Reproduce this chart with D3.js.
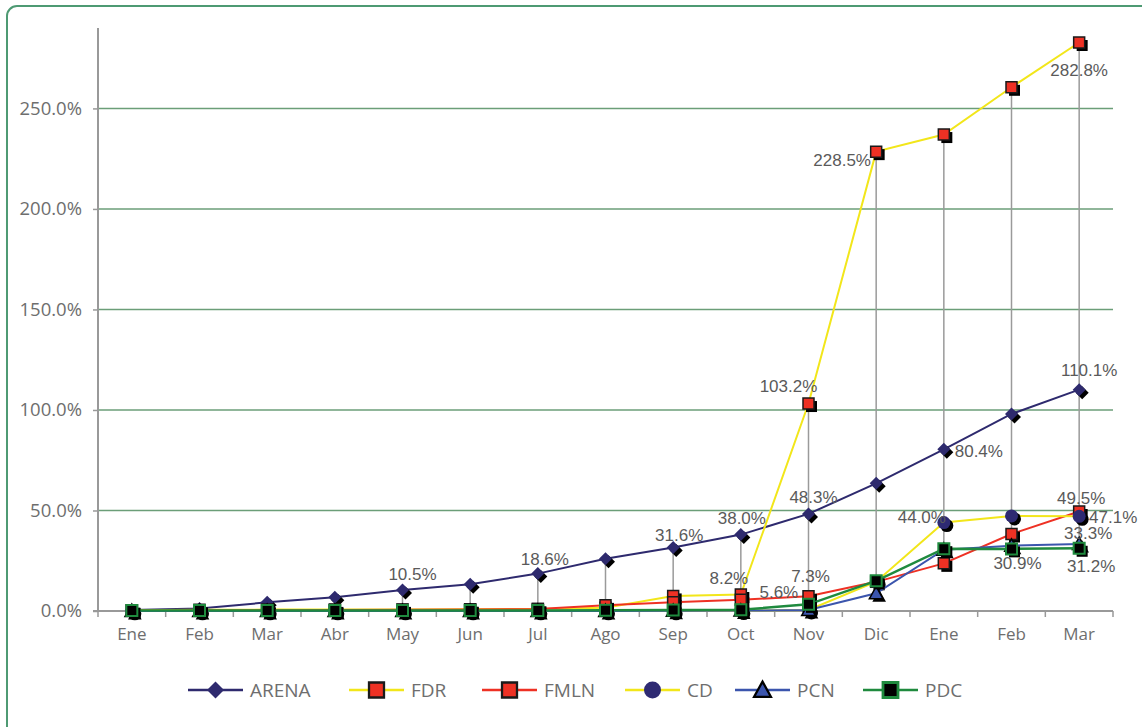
<!DOCTYPE html>
<html><head><meta charset="utf-8">
<script src="https://cdn.jsdelivr.net/npm/d3@7"></script>
<style>body{margin:0;background:#fff}svg{display:block}</style>
</head><body>
<svg id="c" width="1142" height="727"></svg>
<script>
// ---- data ----
const categories = ["Ene","Feb","Mar","Abr","May","Jun","Jul","Ago","Sep","Oct","Nov","Dic","Ene","Feb","Mar"];
const seriesNames = ["ARENA","FDR","FMLN","CD","PCN","PDC"];
const arena = [0.5, 1.2, 4.3, 6.8, 10.5, 13.3, 18.6, 26.0, 31.6, 38.0, 48.3, 63.5, 80.4, 98.0, 110.1];
const fdr   = [0.4, 0.6, 0.7, 0.8, 0.8, 0.9, 1.0, 1.6, 7.5, 8.2, 103.2, 228.5, 237.0, 260.5, 282.8];
const fmln  = [0.2, 0.3, 0.4, 0.5, 0.6, 0.7, 1.0, 2.8, 4.3, 5.6, 7.3, 14.5, 23.7, 38.3, 49.5];
const cd    = [0.1, 0.1, 0.1, 0.1, 0.1, 0.1, 0.1, 0.1, 0.1, 0.2, 0.5, 14.6, 44.0, 47.3, 47.1];
const pcn   = [0.0, 0.0, 0.0, 0.0, 0.0, 0.0, 0.0, 0.0, 0.1, 0.2, 0.5, 8.8, 30.5, 32.5, 33.3];
const pdc   = [0.3, 0.3, 0.3, 0.3, 0.3, 0.3, 0.3, 0.4, 0.5, 0.6, 3.3, 15.0, 31.0, 30.9, 31.2];
const yTicks = [0, 50, 100, 150, 200, 250];
// labelled points: [series, category index]
const labelledPoints = [
  ["ARENA",4],["ARENA",6],["ARENA",8],["ARENA",9],["ARENA",10],["ARENA",12],["ARENA",14],
  ["FDR",9],["FMLN",9],["FMLN",10],["FDR",10],["FDR",11],["FDR",14],
  ["CD",12],["FMLN",14],["CD",14],["PCN",14],["PDC",13],["PDC",14]
];
// ---- layout / style ----
const labelOffsets = [[10,-16],[7,-15],[6,-13],[1,-17],[5,-17],[35,2],[10,-20],
  [-12,-17],[38,-8],[2,-20],[-20,-18],[-34,8],[0,27],
  [-22,-6],[2,-14],[34,1],[9,-11],[6,14],[12,18]];
const values = {ARENA:arena, FDR:fdr, FMLN:fmln, CD:cd, PCN:pcn, PDC:pdc};
const style = {
  ARENA:{line:"#2e2a6e", lw:2, shape:"diamond", fill:"#2e2a6e", stroke:"none", sw:0},
  FDR:{line:"#f2e61a", lw:2, shape:"square", fill:"#ee3124", stroke:"#1a1a1a", sw:1.5},
  FMLN:{line:"#ee3124", lw:2, shape:"square", fill:"#ee3124", stroke:"#1a1a1a", sw:1.5},
  CD:{line:"#f2e61a", lw:2, shape:"circle", fill:"#2e2a72", stroke:"none", sw:0},
  PCN:{line:"#3b55ad", lw:2, shape:"triangle", fill:"#3b55ad", stroke:"#000", sw:1.5},
  PDC:{line:"#1f8a3e", lw:2.5, shape:"square", fill:"#000", stroke:"#1f8a3e", sw:2}
};
const legendX = [188, 349, 482, 625, 735, 863];

const svg = d3.select("#c");
svg.append("rect").attr("x",7).attr("y",6).attr("width",1160).attr("height",760)
  .attr("rx",10).attr("fill","#fff").attr("stroke","#4e9a73").attr("stroke-width",2);

const x = d3.scaleBand().domain(d3.range(categories.length)).range([98,1113]);
const y = d3.scaleLinear().domain([0,290]).range([611,28]);
const cx = i => x(i) + x.bandwidth()/2;

// gridlines
svg.append("g").selectAll("line").data(yTicks.filter(d=>d>0)).join("line")
  .attr("x1",x.range()[0]).attr("x2",x.range()[1])
  .attr("y1",d=>y(d)).attr("y2",d=>y(d))
  .attr("stroke","#6b9e78").attr("stroke-width",1.5);

// y axis
const ya = svg.append("g").attr("transform",`translate(${x.range()[0]},0)`)
  .call(d3.axisLeft(y).tickValues(yTicks).tickSize(5).tickPadding(11).tickFormat(d=>d.toFixed(1)+"%"));
ya.select(".domain").remove();
ya.selectAll(".tick line").attr("stroke","#999").attr("stroke-width",1.5);
ya.selectAll("text").attr("font-family","Open Sans").attr("font-size",18.5).attr("fill","#6e6e6e");
svg.append("line").attr("x1",x.range()[0]).attr("x2",x.range()[0]).attr("y1",y.range()[1]).attr("y2",y(0))
  .attr("stroke","#999").attr("stroke-width",2);

// drop lines (high-low)
const hi = categories.map((c,i)=>d3.max(seriesNames,s=>values[s][i]));
const lo = categories.map((c,i)=>d3.min(seriesNames,s=>values[s][i]));
svg.append("g").selectAll("line").data(categories.map((c,i)=>i)).join("line")
  .attr("x1",cx).attr("x2",cx).attr("y1",i=>y(hi[i])).attr("y2",i=>y(lo[i]))
  .attr("stroke","#9a9a9a").attr("stroke-width",1.5);

// x axis
const xa = svg.append("g").attr("transform",`translate(0,${y(0)})`)
  .call(d3.axisBottom(x).tickSize(0).tickPadding(17).tickFormat(i=>categories[i]));
xa.select(".domain").remove();
xa.selectAll("text").attr("font-family","Open Sans").attr("font-size",17).attr("fill","#6e6e6e");
svg.append("line").attr("x1",x.range()[0]-5).attr("x2",x.range()[1]).attr("y1",y(0)).attr("y2",y(0))
  .attr("stroke","#999").attr("stroke-width",2);
svg.append("g").selectAll("line").data(d3.range(categories.length+1)).join("line")
  .attr("x1",i=>i<categories.length?x(i):x.range()[1]).attr("x2",i=>i<categories.length?x(i):x.range()[1])
  .attr("y1",y(0)).attr("y2",y(0)+6).attr("stroke","#999").attr("stroke-width",1.5);

function symbolPath(shape, size){
  const h = size/2;
  if(shape==="diamond") return `M0,${-h}L${h},0L0,${h}L${-h},0Z`;
  if(shape==="square") return `M${-h},${-h}H${h}V${h}H${-h}Z`;
  if(shape==="circle") return `M${-h},0A${h},${h} 0 1,0 ${h},0A${h},${h} 0 1,0 ${-h},0Z`;
  if(shape==="triangle") return `M0,${-h*1.05}L${h*1.05},${h*0.85}L${-h*1.05},${h*0.85}Z`;
}
const markerSize = {diamond:13, square:11, circle:13, triangle:13};

const line = d3.line().x((d,i)=>cx(i)).y(d=>y(d));
seriesNames.forEach(s=>{
  const st = style[s];
  const g = svg.append("g");
  g.append("path").attr("d",line(values[s])).attr("fill","none")
    .attr("stroke",st.line).attr("stroke-width",st.lw);
  const p = symbolPath(st.shape, markerSize[st.shape]);
  g.selectAll(".sh").data(values[s]).join("path").attr("class","sh")
    .attr("transform",(d,i)=>`translate(${cx(i)+3},${y(d)+3})`).attr("d",p).attr("fill","#000");
  g.selectAll(".mk").data(values[s]).join("path").attr("class","mk")
    .attr("transform",(d,i)=>`translate(${cx(i)},${y(d)})`).attr("d",p)
    .attr("fill",st.fill).attr("stroke",st.stroke).attr("stroke-width",st.sw);
});

// data labels
svg.append("g").selectAll("text").data(labelledPoints).join("text")
  .attr("x",(d,k)=>cx(d[1])+labelOffsets[k][0])
  .attr("y",(d,k)=>y(values[d[0]][d[1]])+labelOffsets[k][1])
  .attr("dy","0.36em").attr("text-anchor","middle")
  .attr("font-family","Liberation Sans, Arial").attr("font-size",17).attr("fill","#5a5a5a")
  .text(d=>values[d[0]][d[1]].toFixed(1)+"%");

// legend
const lg = svg.append("g");
seriesNames.forEach((s,k)=>{
  const st = style[s], x0 = legendX[k], ly = 690;
  lg.append("line").attr("x1",x0).attr("x2",x0+55).attr("y1",ly).attr("y2",ly)
    .attr("stroke",st.line).attr("stroke-width",2.5);
  const sz = st.shape==="square"?15:(st.shape==="triangle"?16:17);
  lg.append("path").attr("transform",`translate(${x0+27.5},${ly})`).attr("d",symbolPath(st.shape,sz))
    .attr("fill",st.fill).attr("stroke",st.stroke==="none"?"none":st.stroke).attr("stroke-width",st.sw?st.sw+0.8:0);
  lg.append("text").attr("x",x0+62).attr("y",ly).attr("dy","0.35em")
    .attr("font-family","Open Sans").attr("font-size",19).attr("fill","#6e6e6e").text(s);
});
</script>
</body></html>
